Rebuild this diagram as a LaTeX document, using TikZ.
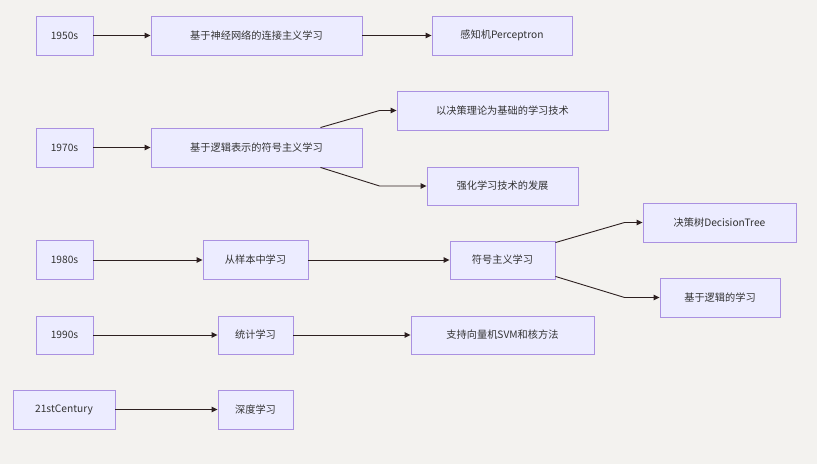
\documentclass[tikz,border=0pt]{standalone}
\usepackage{fontspec}
\setmainfont{Noto Sans CJK SC}
\usetikzlibrary{arrows.meta}
\definecolor{bgcol}{RGB}{243,242,239}
\definecolor{boxfill}{RGB}{236,236,255}
\definecolor{boxline}{RGB}{170,145,225}
\definecolor{txtcol}{RGB}{51,51,51}
\definecolor{linkcol}{RGB}{45,32,32}

\begin{document}
\begin{tikzpicture}[x=1pt, y=1pt, >={Triangle[length=6pt,width=5.5pt]},
    box/.style={draw=boxline, fill=boxfill, line width=0.9pt, text=txtcol,
        minimum height=39pt, inner sep=0pt,
        font=\fontsize{10.2}{12}\selectfont},
    link/.style={->, draw=linkcol, line width=0.9pt}]
    \fill[bgcol] (0,0) rectangle (817,464);
    \useasboundingbox (0,0) rectangle (817,464);

    \node[box, minimum width=57pt] (y1950) at (64.5,428.5) {1950s};
    \node[box, minimum width=211pt] (lianjie) at (256.5,428.5) {基于神经网络的连接主义学习};
    \node[box, minimum width=140pt] (ganzhiji) at (502,428.5) {感知机Perceptron};
    \draw[link] (y1950) -- (lianjie);
    \draw[link] (lianjie) -- (ganzhiji);

    \node[box, minimum width=57pt] (y1970) at (64.5,316.5) {1970s};
    \node[box, minimum width=211pt] (fuhao) at (256.5,316.5) {基于逻辑表示的符号主义学习};
    \node[box, minimum width=211pt] (juece) at (502.5,353.5) {以决策理论为基础的学习技术};
    \node[box, minimum width=151pt, minimum height=38pt] (qianghua) at (502.5,278) {强化学习技术的发展};
    \draw[link] (y1970) -- (fuhao);
    \draw[link] ([xshift=-42pt]fuhao.north east) -- ([xshift=-17pt]juece.west) -- (juece.west);
    \draw[link] ([xshift=-42pt]fuhao.south east) -- ([xshift=-47pt]qianghua.west) -- (qianghua.west);

    \node[box, minimum width=57pt] (y1980) at (64.5,204) {1980s};
    \node[box, minimum width=105pt] (yangben) at (255.5,204) {从样本中学习};
    \node[box, minimum width=105pt, minimum height=38pt] (fuhaozy) at (502.5,204) {符号主义学习};
    \node[box, minimum width=153pt] (jueceshu) at (719.5,241.5) {决策树DecisionTree};
    \node[box, minimum width=120pt] (luoji) at (720,166.5) {基于逻辑的学习};
    \draw[link] (y1980) -- (yangben);
    \draw[link] (yangben) -- (fuhaozy);
    \draw[link] ([yshift=-2pt]fuhaozy.north east) -- ([xshift=-18pt]jueceshu.west) -- (jueceshu.west);
    \draw[link] ([yshift=3pt]fuhaozy.south east) -- ([xshift=-35pt]luoji.west) -- (luoji.west);

    \node[box, minimum width=57pt, minimum height=38pt] (y1990) at (64.5,129) {1990s};
    \node[box, minimum width=75pt, minimum height=38pt] (tongji) at (255.5,129) {统计学习};
    \node[box, minimum width=183pt, minimum height=38pt] (svm) at (502.5,129) {支持向量机SVM和核方法};
    \draw[link] (y1990) -- (tongji);
    \draw[link] (tongji) -- (svm);

    \node[box, minimum width=102pt] (y21) at (64,54.5) {21stCentury};
    \node[box, minimum width=75pt] (shendu) at (255.5,54.5) {深度学习};
    \draw[link] (y21) -- (shendu);
\end{tikzpicture}
\end{document}
